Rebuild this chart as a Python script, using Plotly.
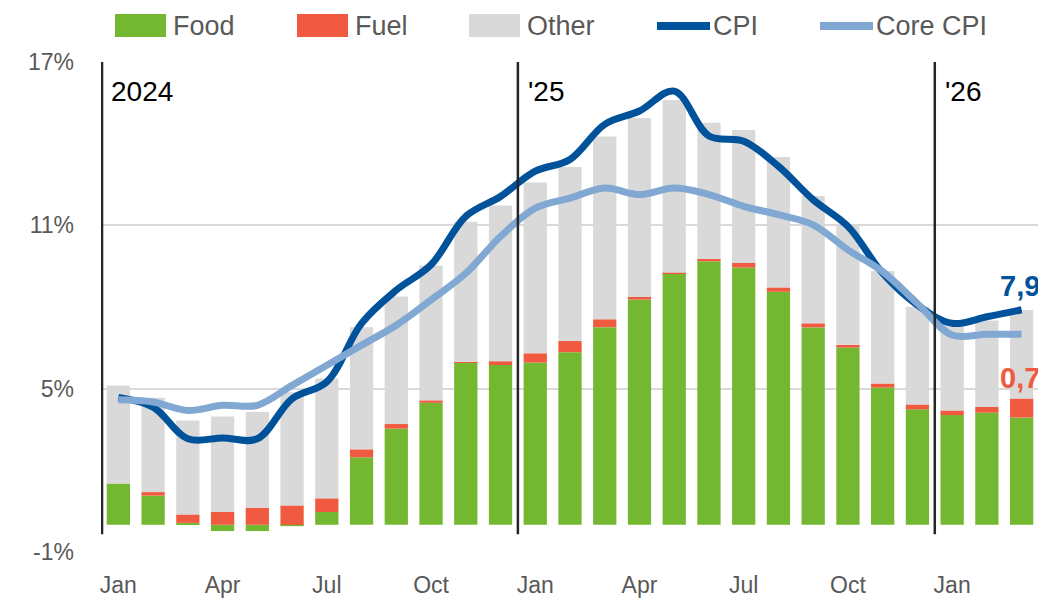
import plotly.graph_objects as go

# monthly data, Jan 2024 - Mar 2026 (percentage points / % y/y)
months = ['Jan 24', 'Feb 24', 'Mar 24', 'Apr 24', 'May 24', 'Jun 24', 'Jul 24', 'Aug 24', 'Sep 24',
          'Oct 24', 'Nov 24', 'Dec 24', 'Jan 25', 'Feb 25', 'Mar 25', 'Apr 25', 'May 25', 'Jun 25',
          'Jul 25', 'Aug 25', 'Sep 25', 'Oct 25', 'Nov 25', 'Dec 25', 'Jan 26', 'Feb 26', 'Mar 26']
food = [1.52, 1.07, 0.07, -0.23, -0.23, -0.05, 0.47, 2.48, 3.53,
        4.48, 5.96, 5.87, 5.96, 6.34, 7.26, 8.27, 9.24, 9.68,
        9.45, 8.56, 7.25, 6.51, 5.04, 4.24, 4.03, 4.12, 3.94]
fuel = [0.0, 0.13, 0.31, 0.48, 0.63, 0.71, 0.50, 0.29, 0.17,
        0.09, 0.02, 0.14, 0.34, 0.41, 0.29, 0.10, 0.02, 0.09,
        0.17, 0.16, 0.15, 0.10, 0.15, 0.18, 0.17, 0.21, 0.7]
other = [3.60, 3.47, 3.45, 3.50, 3.51, 4.16, 4.40, 4.49, 4.69,
         4.95, 5.15, 5.72, 6.27, 6.39, 6.71, 6.57, 6.34, 5.00,
         4.88, 4.79, 4.68, 4.43, 4.13, 3.59, 3.30, 3.17, 3.25]
cpi = [4.68, 4.32, 3.16, 3.19, 3.16, 4.63, 5.25, 7.40, 8.62,
       9.55, 11.33, 12.06, 12.99, 13.42, 14.71, 15.20, 15.93, 14.28,
       14.09, 13.17, 11.94, 10.96, 9.24, 8.07, 7.40, 7.64, 7.9]
core_cpi = [4.59, 4.51, 4.20, 4.39, 4.39, 5.12, 5.86, 6.60, 7.33,
            8.26, 9.24, 10.59, 11.63, 12.00, 12.37, 12.13, 12.37, 12.13,
            11.70, 11.39, 11.02, 10.10, 9.30, 8.13, 6.97, 7.00, 7.00]
tick_months = ['Jan', 'Apr', 'Jul', 'Oct']
y_ticks = [-1, 5, 11, 17]
year_labels = ['2024', "'25", "'26"]

GREEN = '#74B832'
RED = '#F05A40'
GREY = '#D9D9D9'
DARK_BLUE = '#00529B'
LIGHT_BLUE = '#80A8D2'
TEXT = '#595959'
FONT = 'Liberation Sans, Arial, sans-serif'

fig = go.Figure()
for name, vals, color in [('Food', food, GREEN), ('Fuel', fuel, RED), ('Other', other, GREY)]:
    fig.add_trace(go.Bar(x=months, y=vals, name=name, marker_color=color, marker_line_width=0))
fig.add_trace(go.Scatter(x=months, y=cpi, name='CPI', mode='lines', line_shape='spline',
                         line=dict(color=DARK_BLUE, width=7)))
fig.add_trace(go.Scatter(x=months, y=core_cpi, name='Core CPI', mode='lines', line_shape='spline',
                         line=dict(color=LIGHT_BLUE, width=7)))

n = len(months)
# year separators and labels (first one nudged in so it isn't clipped at the plot edge)
year_starts = [i for i, m in enumerate(months) if m.startswith('Jan')]
for i, lab in zip(year_starts, year_labels):
    xl = max(i - 0.5, -0.47)
    fig.add_shape(type='line', x0=xl, x1=xl, y0=-0.35, y1=17,
                  line=dict(color='#262626', width=2.5), layer='above')
    fig.add_annotation(x=i - 0.5, y=15.9, text=lab, showarrow=False, xanchor='left', xshift=8,
                       font=dict(size=28, color='black', family=FONT))

# end labels
fig.add_annotation(x=months[-1], y=cpi[-1], text=f'<b>{cpi[-1]:.1f}</b>'.replace('.', ','), showarrow=False,
                   yshift=24, xshift=-2, font=dict(size=29, color=DARK_BLUE, family=FONT))
fig.add_annotation(x=months[-1], y=food[-1] + fuel[-1], text=f'<b>{fuel[-1]:.1f}</b>'.replace('.', ','),
                   showarrow=False, yshift=20, xshift=-2, font=dict(size=29, color=RED, family=FONT))

# page is 1046x600 but the html body has an 8px margin -> figure a bit smaller
OFF = 8
FIG_W, FIG_H = 1046 - OFF, 600 - OFF
L, T, W, H = 101 - OFF, 62 - OFF, 938, 490


def px(x):
    return (x - OFF - L) / W


def py(y):
    return (T + H - (y - OFF)) / H


# hand-made legend (big swatches like the original), positions in page pixels
legend = [('Food', GREEN, 'bar', 115), ('Fuel', RED, 'bar', 297), ('Other', GREY, 'bar', 469),
          ('CPI', DARK_BLUE, 'line', 655), ('Core CPI', LIGHT_BLUE, 'line', 818)]
for name, color, kind, x0 in legend:
    if kind == 'bar':
        fig.add_shape(type='rect', xref='paper', yref='paper', x0=px(x0), x1=px(x0 + 51),
                      y0=py(37), y1=py(14), fillcolor=color, line_width=0)
    else:
        fig.add_shape(type='line', xref='paper', yref='paper', x0=px(x0 + 2), x1=px(x0 + 55),
                      y0=py(26), y1=py(26), line=dict(color=color, width=8))
    fig.add_annotation(xref='paper', yref='paper', x=px(x0 + 56), y=py(26), text=name,
                       showarrow=False, xanchor='left', yanchor='middle',
                       font=dict(size=27, color=TEXT, family=FONT))

fig.update_layout(
    width=FIG_W, height=FIG_H,
    margin=dict(l=L, r=FIG_W - L - W, t=T, b=FIG_H - T - H, autoexpand=False),
    plot_bgcolor='white', paper_bgcolor='white',
    barmode='relative', bargap=0.33,
    showlegend=False,
    font=dict(family=FONT, color=TEXT),
    xaxis=dict(type='category', range=[-0.5, n - 0.5], showgrid=False, showline=False, zeroline=False,
               automargin=False,
               tickvals=[m for m in months if m.split()[0] in tick_months],
               ticktext=[m.split()[0] for m in months if m.split()[0] in tick_months],
               ticks='', ticklabelstandoff=17, tickfont=dict(size=23, color=TEXT)),
    xaxis2=dict(overlaying='x', anchor='free', position=1 / 18, range=[-0.5, n - 0.5],
                automargin=False,
                showgrid=False, zeroline=False, showline=True, linecolor=GREY, linewidth=1.5,
                tickvals=[k - 0.5 for k in range(0, n + 1, 3)], ticks='outside', ticklen=8,
                tickcolor=GREY, tickwidth=1.5, showticklabels=False),
    yaxis=dict(range=[-1, 17], tickvals=y_ticks, ticktext=[f'{v}%' for v in y_ticks], showgrid=True,
               gridcolor=GREY, gridwidth=1.5, zeroline=False, showline=False, automargin=False,
               ticklabelstandoff=26, tickfont=dict(size=23, color=TEXT)),
)

fig.write_html('out.html')
